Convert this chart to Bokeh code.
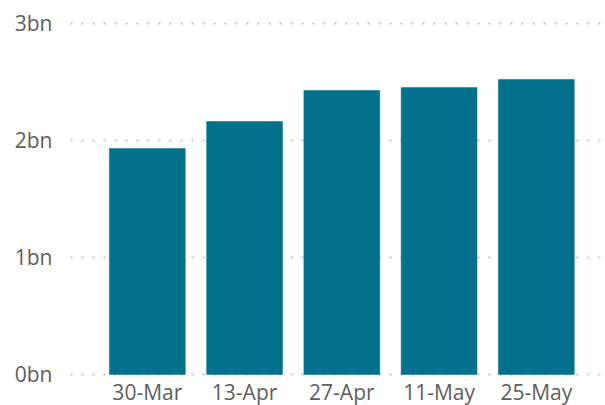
from bokeh.plotting import figure
from bokeh.models import Range1d, FixedTicker, ColumnDataSource
from bokeh.core.properties import value
from bokeh.embed import file_html
from bokeh.resources import INLINE

dates = ["30-Mar", "13-Apr", "27-Apr", "11-May", "25-May"]
values_bn = [1.93, 2.16, 2.425, 2.45, 2.52]
y_ticks = [0, 1, 2, 3]
y_labels = ["0bn", "1bn", "2bn", "3bn"]

idx = list(range(len(dates)))
src = ColumnDataSource(dict(x=idx, top=values_bn, label=dates, y0=[0] * len(dates)))

p = figure(width=605, height=405, output_backend="svg", toolbar_location=None,
           x_range=Range1d(-0.79, 4.66), y_range=Range1d(-0.265, 3.194),
           min_border_left=70, min_border_right=5, min_border_top=0, min_border_bottom=0)
p.outline_line_color = None
p.background_fill_color = "white"
p.border_fill_color = "white"

p.vbar(x="x", top="top", width=0.78, bottom=0, source=src,
       fill_color="#03708C", line_color="#03708C", line_width=0.5)

p.text(x="x", y="y0", text="label", source=src, y_offset=18,
       text_align="center", text_baseline="alphabetic",
       text_font=value("Open Sans"), text_font_size="21px", text_color="#605E5C")

p.xgrid.grid_line_color = None
p.ygrid.ticker = FixedTicker(ticks=y_ticks)
p.ygrid.grid_line_color = "#C4C4C4"
p.ygrid.grid_line_dash = "2 9"
p.ygrid.grid_line_width = 2

p.xaxis.visible = False

ya = p.yaxis[0]
ya.ticker = FixedTicker(ticks=y_ticks)
ya.major_label_overrides = {t: l for t, l in zip(y_ticks, y_labels)}
ya.axis_line_color = None
ya.major_tick_line_color = None
ya.minor_tick_line_color = None
ya.major_label_standoff = 12
ya.major_label_text_font = "Open Sans"
ya.major_label_text_font_size = "21px"
ya.major_label_text_color = "#605E5C"

open("out.html", "w").write(file_html(p, INLINE))
